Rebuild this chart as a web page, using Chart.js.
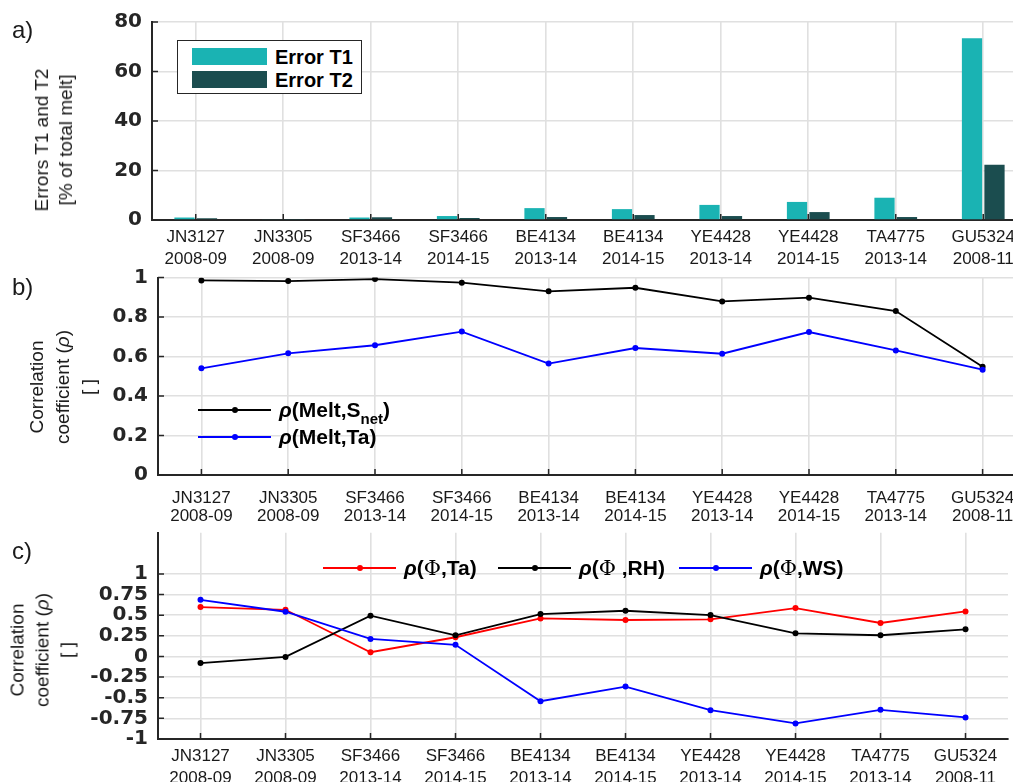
<!DOCTYPE html>
<html>
<head>
<meta charset="utf-8">
<script src="https://cdn.jsdelivr.net/npm/chart.js@4.4.0/dist/chart.umd.min.js"></script>
<style>
  html, body { margin: 0; padding: 0; background: #fff; }
  body {
    position: relative; width: 1013px; height: 782px; overflow: hidden;
    font-family: "Liberation Sans", Arial, sans-serif; color: #262626;
  }
  canvas { position: absolute; left: 0; }
  .tag { position: absolute; left: 12px; font-size: 24px; line-height: 1; color: #1a1a1a; }
  .ytitle {
    position: absolute; transform: translate(-50%, -50%) rotate(-90deg);
    white-space: nowrap; text-align: center; font-size: 19px; color: #1a1a1a;
  }
  .bar-key {
    position: absolute; left: 177px; top: 40px; width: 183px; height: 52px;
    border: 1.5px solid #262626; background: #fff;
  }
  .bar-key div { position: absolute; left: 14px; height: 17px; width: 75px; }
  .bar-key span {
    position: absolute; left: 97px; font-weight: bold; font-size: 20px;
    line-height: 20px; color: #000;
  }
  .line-key {
    position: absolute; display: flex; align-items: center; transform: translateY(-50%);
    font-weight: bold; font-size: 21px; white-space: nowrap; color: #000;
  }
  .line-key .sw { position: relative; width: 73px; height: 2px; margin-right: 8px; }
  .line-key .sw i {
    position: absolute; left: 50%; top: 50%; width: 6px; height: 6px;
    border-radius: 50%; transform: translate(-50%, -50%);
  }
  .line-key em { font-style: italic; }
  .line-key .phi { font-family: "DejaVu Serif", "Liberation Serif", serif; font-weight: normal; }
  .line-key sub { font-size: 15px; vertical-align: baseline; position: relative; top: 7px; }
</style>
</head>
<body>

<canvas id="chart-errors" width="1030" height="268" style="top:0"></canvas>
<canvas id="chart-melt" width="1030" height="262" style="top:262px"></canvas>
<canvas id="chart-phi" width="1013" height="262" style="top:520px"></canvas>

<div class="tag" style="top:18px">a)</div>
<div class="tag" style="top:275px">b)</div>
<div class="tag" style="top:539px">c)</div>

<div class="ytitle" style="left:54px;top:140px;line-height:24px">Errors T1 and T2<br>[% of total melt]</div>
<div class="ytitle" style="left:63px;top:387px;line-height:26px">Correlation<br>coefficient (<i>ρ</i>)<br>[ ]</div>
<div class="ytitle" style="left:42px;top:650px;line-height:25px">Correlation<br>coefficient (<i>ρ</i>)<br>[ ]</div>

<div class="bar-key" id="key-errors"></div>
<div id="key-melt"></div>
<div id="key-phi"></div>

<script>
// ── Dados ────────────────────────────────────────────────────────────────────
const stations = ["JN3127", "JN3305", "SF3466", "SF3466", "BE4134", "BE4134", "YE4428", "YE4428", "TA4775", "GU5324"];
const seasons  = ["2008-09", "2008-09", "2013-14", "2014-15", "2013-14", "2014-15", "2013-14", "2014-15", "2013-14", "2008-11"];

// a) erros T1 / T2 em % do derretimento total
const errorT1 = [1.0, 0.3, 1.0, 1.6, 4.8, 4.4, 6.1, 7.3, 9.0, 73.4];
const errorT2 = [0.7, 0.2, 1.1, 0.8, 1.2, 2.0, 1.6, 3.2, 1.2, 22.3];

// b) correlação do derretimento com S_net e Ta
const rhoMeltSnet = [0.985, 0.982, 0.992, 0.974, 0.930, 0.948, 0.879, 0.898, 0.830, 0.548];
const rhoMeltTa   = [0.540, 0.616, 0.657, 0.726, 0.564, 0.643, 0.614, 0.724, 0.631, 0.533];

// c) correlação de Φ com Ta, RH e WS
const rhoPhiTa = [0.599, 0.566, 0.052, 0.233, 0.461, 0.442, 0.450, 0.587, 0.406, 0.546];
const rhoPhiRH = [-0.080, -0.005, 0.494, 0.257, 0.514, 0.554, 0.502, 0.281, 0.257, 0.329];
const rhoPhiWS = [0.687, 0.542, 0.213, 0.141, -0.542, -0.365, -0.651, -0.811, -0.647, -0.739];

// ticks dos eixos y
const yTicksErrors = [0, 20, 40, 60, 80];
const yTicksMelt   = [0, 0.2, 0.4, 0.6, 0.8, 1];
const yTicksPhi    = [-1, -0.75, -0.5, -0.25, 0, 0.25, 0.5, 0.75, 1];

// ── Estilo ───────────────────────────────────────────────────────────────────
const COLOR_T1 = "#1ab3b3";
const COLOR_T2 = "#1b4d4f";
const GRID = "#e0e0e0";
const AXIS = "#262626";
const FONT = '"Liberation Sans", Arial, sans-serif';

Chart.defaults.font.family = FONT;
Chart.defaults.color = AXIS;

const labels = stations.map((s, i) => [s, seasons[i]]);

// marcas de tick para dentro do gráfico, como no estilo MATLAB
const inwardTicks = {
  id: "inwardTicks",
  afterDatasetsDraw(chart) {
    const { ctx, chartArea: a, scales: { x, y } } = chart;
    ctx.save();
    ctx.strokeStyle = AXIS;
    ctx.lineWidth = 1.5;
    ctx.beginPath();
    x.ticks.forEach((t, i) => {
      const px = x.getPixelForTick(i);
      ctx.moveTo(px, a.bottom);
      ctx.lineTo(px, a.bottom - 6);
    });
    y.ticks.forEach((t, i) => {
      const py = y.getPixelForTick(i);
      ctx.moveTo(a.left, py);
      ctx.lineTo(a.left + 6, py);
    });
    ctx.stroke();
    ctx.restore();
  },
};

function yScale(min, max, ticks, width) {
  return {
    min, max,
    afterBuildTicks: s => { s.ticks = ticks.map(v => ({ value: v })); },
    // largura fixa do eixo e sem folga extra acima/abaixo da área do gráfico
    afterFit: s => { s.width = width; s.paddingTop = 0; s.paddingBottom = 0; },
    ticks: {
      font: { family: '"DejaVu Sans", sans-serif', size: 20, weight: "bold" },
      color: AXIS,
      padding: 10,
      autoSkip: false,
      callback: v => String(v),
    },
    grid: { color: GRID, lineWidth: 1.6, drawTicks: false },
    border: { color: AXIS, width: 2 },
  };
}

function xScale(height, pad, lineHeight) {
  return {
    offset: true,
    afterFit: s => { s.height = height; },
    ticks: {
      font: { size: 17, lineHeight },
      color: "#1a1a1a",
      padding: pad,
      maxRotation: 0,
      autoSkip: false,
    },
    grid: { offset: false, color: GRID, lineWidth: 1.6, drawTicks: false },
    border: { color: AXIS, width: 2 },
  };
}

function lineSet(data, color, order) {
  return {
    data, order,
    borderColor: color,
    backgroundColor: color,
    borderWidth: 1.8,
    pointRadius: 3,
    pointBorderWidth: 0,
    pointBackgroundColor: color,
    tension: 0,
  };
}

const baseOptions = {
  responsive: false,
  animation: false,
  events: [],
  plugins: { legend: { display: false }, tooltip: { enabled: false } },
};

// ── a) Barras de erro ────────────────────────────────────────────────────────
new Chart(document.getElementById("chart-errors"), {
  type: "bar",
  data: {
    labels,
    datasets: [
      { label: "Error T1", data: errorT1, backgroundColor: COLOR_T1 },
      { label: "Error T2", data: errorT2, backgroundColor: COLOR_T2 },
    ].map(d => ({ ...d, categoryPercentage: 0.514, barPercentage: 0.9 })),
  },
  options: {
    ...baseOptions,
    layout: { padding: { top: 22, right: 3, left: 0, bottom: 0 } },
    scales: {
      x: xScale(48, 7, "21.5px"),
      y: yScale(0, 80, yTicksErrors, 152),
    },
  },
  plugins: [inwardTicks],
});

// ── b) Correlação com derretimento ───────────────────────────────────────────
new Chart(document.getElementById("chart-melt"), {
  type: "line",
  data: {
    labels,
    datasets: [
      lineSet(rhoMeltSnet, "#000000", 1),
      lineSet(rhoMeltTa, "#0000ff", 0),
    ],
  },
  options: {
    ...baseOptions,
    layout: { padding: { top: 15.5, right: 4, left: 0, bottom: 0 } },
    scales: {
      x: xScale(49, 14, "18.3px"),
      y: yScale(0, 1, yTicksMelt, 158),
    },
  },
  plugins: [inwardTicks],
});

// ── c) Correlação com Φ ──────────────────────────────────────────────────────
new Chart(document.getElementById("chart-phi"), {
  type: "line",
  data: {
    labels,
    datasets: [
      lineSet(rhoPhiTa, "#ff0000", 2),
      lineSet(rhoPhiRH, "#000000", 1),
      lineSet(rhoPhiWS, "#0000ff", 0),
    ],
  },
  options: {
    ...baseOptions,
    layout: { padding: { top: 12.7, right: 5, left: 0, bottom: 0 } },
    scales: {
      x: xScale(43, 7, "21.5px"),
      y: yScale(-1, 1.5, yTicksPhi, 158),
    },
  },
  plugins: [inwardTicks],
});

// ── Legendas ─────────────────────────────────────────────────────────────────
document.getElementById("key-errors").innerHTML = [
  { color: COLOR_T1, label: "Error T1", top: 7 },
  { color: COLOR_T2, label: "Error T2", top: 30 },
].map(({ color, label, top }) => `
  <div style="top:${top}px;background:${color}"></div>
  <span style="top:${top - 1}px">${label}</span>
`).join("");

function lineKey(x, y, color, html) {
  return `
    <div class="line-key" style="left:${x}px;top:${y}px">
      <span class="sw" style="background:${color}"><i style="background:${color}"></i></span>
      <span>${html}</span>
    </div>`;
}

document.getElementById("key-melt").innerHTML =
  lineKey(198, 410, "#000000", "<em>ρ</em>(Melt,S<sub>net</sub>)") +
  lineKey(198, 437, "#0000ff", "<em>ρ</em>(Melt,Ta)");

document.getElementById("key-phi").innerHTML =
  lineKey(323, 568, "#ff0000", '<em>ρ</em>(<span class="phi">Φ</span>,Ta)') +
  lineKey(498, 568, "#000000", '<em>ρ</em>(<span class="phi">Φ</span> ,RH)') +
  lineKey(679, 568, "#0000ff", '<em>ρ</em>(<span class="phi">Φ</span>,WS)');
</script>
</body>
</html>
